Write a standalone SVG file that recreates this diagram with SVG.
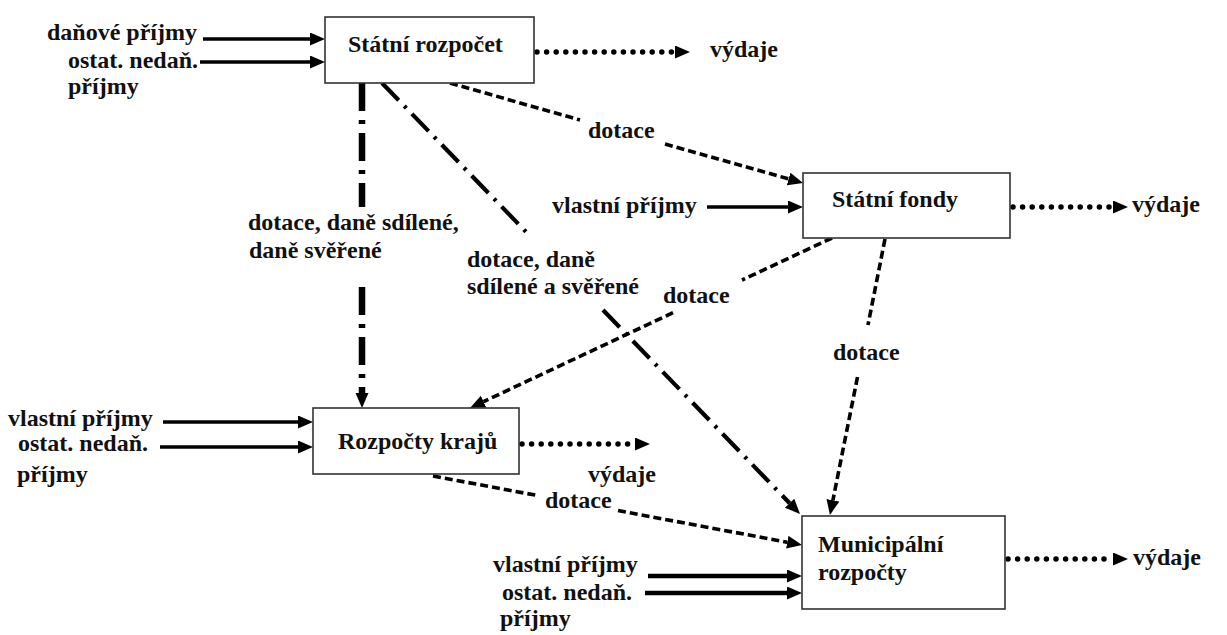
<svg xmlns="http://www.w3.org/2000/svg" width="1227" height="635" viewBox="0 0 1227 635">
  <defs>
    <style>
      text { font-family: "Liberation Serif", "Times New Roman", serif; font-weight: bold; font-size: 24px; fill: #111; }
      .box { fill: #fff; stroke: #333; stroke-width: 1.6; }
      .solid { fill: none; stroke: #000; stroke-width: 3.5; marker-end: url(#arrow); }
      .solid-thick { fill: none; stroke: #000; stroke-width: 4.5; marker-end: url(#arrow); }
      .dotted { fill: none; stroke: #000; stroke-width: 5.5; stroke-linecap: round; stroke-dasharray: 0 9.6; }
      .dotted-end { fill: none; stroke: none; marker-end: url(#arrow); }
      .dashed { fill: none; stroke: #000; stroke-width: 3.6; stroke-dasharray: 8 4; }
      .dashdot-heavy { fill: none; stroke: #000; stroke-width: 6.5; stroke-dasharray: 28 9 4 9; }
      .dashdot { fill: none; stroke: #000; stroke-width: 4.2; stroke-dasharray: 24 8 3 8; }
      .head { marker-end: url(#arrow); }
    </style>
    <marker id="arrow" markerUnits="userSpaceOnUse" markerWidth="16" markerHeight="14" refX="0" refY="6.5" orient="auto">
      <path d="M0,0 L15,6.5 L0,13 z" fill="#000"/>
    </marker>
  </defs>

  <rect width="1227" height="635" fill="#fff"/>

  <!-- connectors -->
  <g id="connectors">
    <!-- revenue inputs into the state budget -->
    <path class="solid" d="M203,39 L310,39"/>
    <path class="solid" d="M200,62 L310,62"/>
    <!-- state budget expenditure -->
    <path class="dotted" d="M537,52 L675,52"/>
    <path class="dotted-end" d="M670,52 L675,52"/>

    <!-- state budget -> state funds (dotace) -->
    <path class="dashed" d="M450,83 L580,120"/>
    <path class="dashed head" d="M665,144 L788.6,178.9"/>

    <!-- state budget -> regional budgets -->
    <path class="dashdot-heavy" d="M362,83 L362,207"/>
    <path class="dashdot-heavy head" d="M362,287 L362,393"/>

    <!-- state budget -> municipal budgets -->
    <path class="dashdot" d="M382,83 L531,237"/>
    <path class="dashdot head" d="M603,310 L789.6,503.2"/>

    <!-- own revenue into state funds -->
    <path class="solid" d="M707,207 L788,207"/>
    <!-- state funds expenditure -->
    <path class="dotted" d="M1013,207 L1113,207"/>
    <path class="dotted-end" d="M1108,207 L1113,207"/>

    <!-- state funds -> regional budgets -->
    <path class="dashed" d="M832,238 L742,280"/>
    <path class="dashed head" d="M673,312.7 L483.6,401.6"/>

    <!-- state funds -> municipal budgets -->
    <path class="dashed" d="M885,239 L868,325"/>
    <path class="dashed head" d="M857.5,377 L832.9,500.3"/>

    <!-- regional budget inputs -->
    <path class="solid" d="M163,422 L298,422"/>
    <path class="solid" d="M160,447 L298,447"/>
    <!-- regional expenditure -->
    <path class="dotted" d="M522,444 L635,444"/>
    <path class="dotted-end" d="M630,444 L635,444"/>

    <!-- regional budgets -> municipal budgets -->
    <path class="dashed" d="M433,476 L538,495.6"/>
    <path class="dashed head" d="M618,510.6 L787.3,542.2"/>

    <!-- municipal inputs -->
    <path class="solid-thick" d="M648,576 L787,576"/>
    <path class="solid-thick" d="M645,593 L787,593"/>
    <!-- municipal expenditure -->
    <path class="dotted" d="M1008,559 L1113,559"/>
    <path class="dotted-end" d="M1108,559 L1113,559"/>

    <!-- connector labels -->
    <text x="47" y="40">daňové příjmy</text>
    <text x="68" y="68">ostat. nedaň.</text>
    <text x="68" y="94">příjmy</text>
    <text x="710" y="57">výdaje</text>
    <text x="588" y="138">dotace</text>
    <text x="248" y="230">dotace, daně sdílené,</text>
    <text x="249" y="258">daně svěřené</text>
    <text x="467" y="267">dotace, daně</text>
    <text x="467" y="294">sdílené a svěřené</text>
    <text x="552" y="213">vlastní příjmy</text>
    <text x="1132" y="212">výdaje</text>
    <text x="663" y="303">dotace</text>
    <text x="833" y="360">dotace</text>
    <text x="8" y="426">vlastní příjmy</text>
    <text x="18" y="451">ostat. nedaň.</text>
    <text x="17" y="482">příjmy</text>
    <text x="588" y="482">výdaje</text>
    <text x="545" y="508">dotace</text>
    <text x="493" y="572">vlastní příjmy</text>
    <text x="502" y="600">ostat. nedaň.</text>
    <text x="500" y="626">příjmy</text>
    <text x="1133" y="565">výdaje</text>
  </g>

  <!-- nodes -->
  <g id="statni-rozpocet">
    <rect class="box" x="325" y="17" width="209" height="66"/>
    <text x="348" y="52">Státní rozpočet</text>
  </g>
  <g id="statni-fondy">
    <rect class="box" x="803" y="173" width="207" height="65"/>
    <text x="832" y="207">Státní fondy</text>
  </g>
  <g id="rozpocty-kraju">
    <rect class="box" x="313" y="408" width="206" height="66"/>
    <text x="338" y="449">Rozpočty krajů</text>
  </g>
  <g id="municipalni-rozpocty">
    <rect class="box" x="802" y="516" width="203" height="93"/>
    <text x="818" y="552">Municipální</text>
    <text x="818" y="580">rozpočty</text>
  </g>
</svg>
